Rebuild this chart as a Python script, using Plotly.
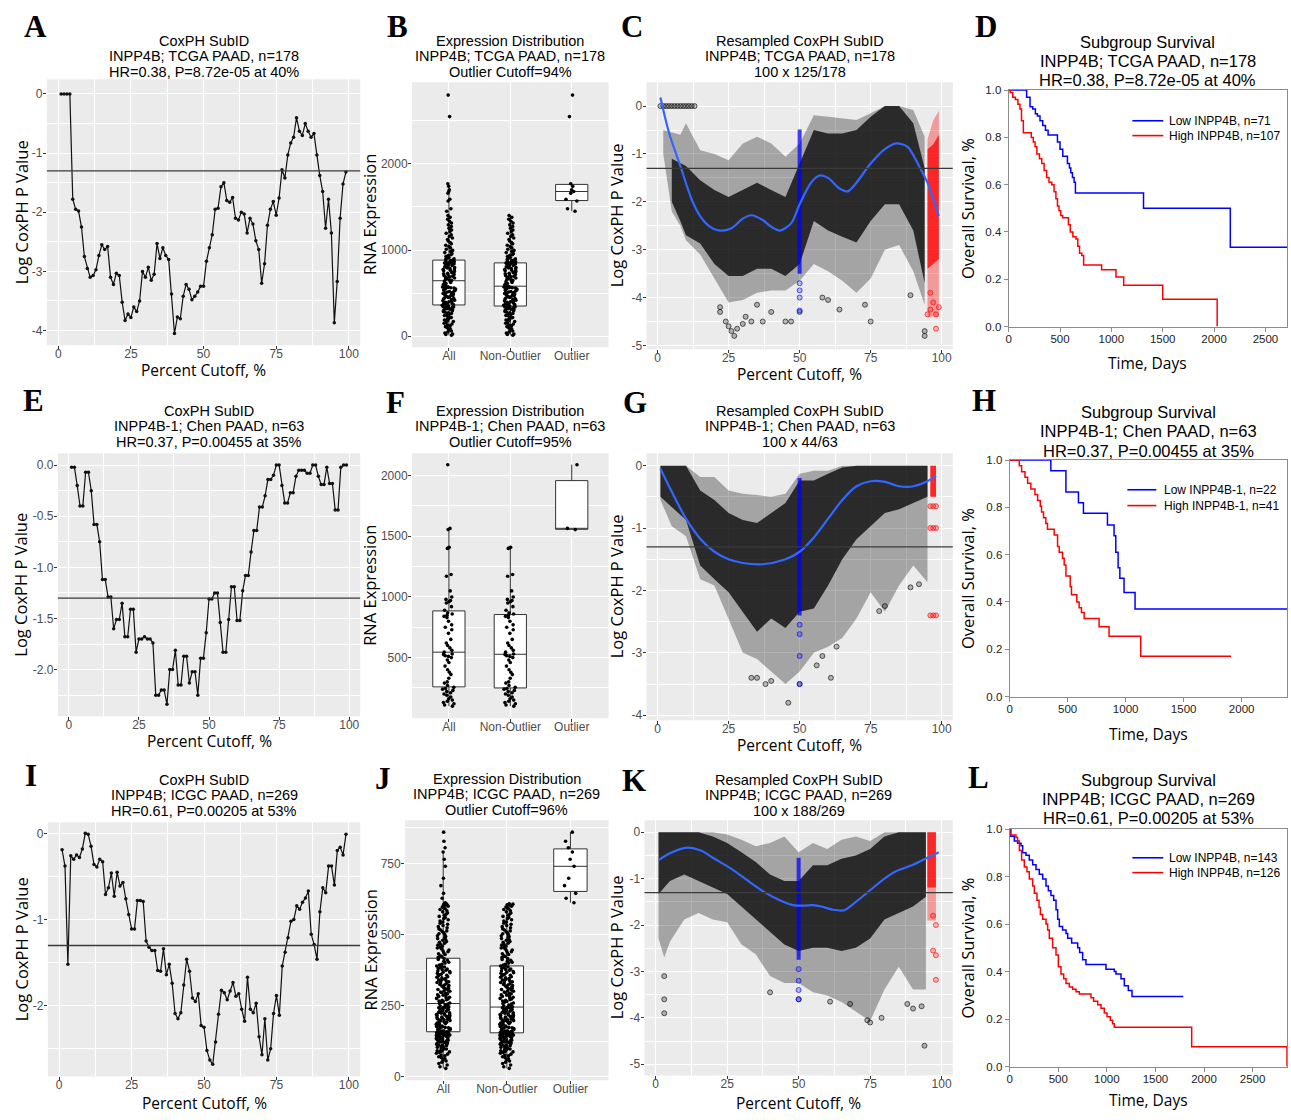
import numpy as np
import plotly.graph_objects as go

# page = 1291 x 1120 window; the body margin is removed by a post script, so the figure fills it
W, H, M = 1291, 1120, 0
SIG = float(np.log10(0.05))
SANS = "Liberation Sans, Arial, sans-serif"
HUM = "Open Sans, Liberation Sans, sans-serif"
SERIF = "Liberation Serif, Times New Roman, serif"

# ======================= DATA =======================
# CoxPH SubID scans: log10 P value at percent cutoffs 1..99
tcga_logp = [0, 0, 0, 0, -1.78, -1.95, -1.98, -2.25, -2.75, -2.95, -3.1, -3.07, -2.97, -2.73, -2.55,
             -2.63, -2.58, -3.1, -3.22, -3.03, -3.07, -3.52, -3.83, -3.72, -3.78, -3.6, -3.68, -3.5,
             -3.0, -3.1, -2.93, -3.15, -3.05, -2.53, -2.78, -2.6, -2.73, -2.8, -3.38, -4.05, -3.77,
             -3.8, -3.42, -3.22, -3.3, -3.48, -3.42, -3.35, -3.25, -3.25, -2.83, -2.6, -2.38, -1.95,
             -1.93, -1.57, -1.5, -1.8, -1.83, -1.75, -2.1, -2.13, -2.0, -2.03, -2.35, -2.1, -2.2,
             -2.48, -2.63, -3.2, -2.87, -2.22, -1.95, -1.82, -2.05, -1.76, -1.28, -1.42, -1.03, -0.83,
             -0.73, -0.4, -0.63, -0.7, -0.5, -0.63, -0.73, -0.67, -1.03, -1.38, -1.65, -2.27, -1.78,
             -2.35, -3.87, -3.17, -2.1, -1.52, -1.32]
chen_logp = [-0.02, -0.02, -0.2, -0.4, -0.4, -0.07, -0.07, -0.25, -0.58, -0.58,
             -0.75, -1.12, -1.12, -1.29, -1.29, -1.6, -1.51, -1.51, -1.35, -1.68,
             -1.68, -1.41, -1.41, -1.83, -1.7, -1.7, -1.68, -1.7, -1.7, -1.74,
             -2.25, -2.25, -2.2, -2.2, -2.34, -2.0, -2.0, -1.81, -2.15, -2.15,
             -1.87, -1.87, -2.13, -2.02, -2.02, -2.25, -1.89, -1.89, -1.64, -1.31,
             -1.31, -1.25, -1.25, -1.54, -1.83, -1.83, -1.51, -1.19, -1.19, -1.52,
             -1.52, -1.23, -1.08, -1.08, -0.85, -0.64, -0.64, -0.41, -0.41, -0.3,
             -0.14, -0.14, -0.1, 0.0, 0.0, -0.2, -0.37, -0.37, -0.27, -0.27,
             -0.11, -0.05, -0.05, -0.05, -0.08, -0.08, 0.0, 0.0, -0.11, -0.19,
             -0.19, -0.02, -0.18, -0.18, -0.44, -0.44, -0.02, 0.0, 0.0]
icgc_logp = [-0.19, -0.38, -1.52, -0.26, -0.3, -0.25, -0.28, -0.18, 0.0, -0.01,
             -0.15, -0.36, -0.39, -0.3, -0.33, -0.71, -0.63, -0.46, -0.73, -0.45,
             -0.61, -0.57, -0.76, -0.94, -1.11, -1.11, -0.78, -0.78, -0.79, -1.25,
             -1.32, -1.36, -1.36, -1.59, -1.6, -1.34, -1.64, -1.52, -1.74, -2.09,
             -2.15, -2.08, -1.76, -1.46, -1.6, -1.91, -1.95, -1.86, -2.23, -2.25,
             -2.52, -2.63, -2.68, -2.42, -2.1, -1.82, -1.85, -1.93, -1.83, -1.73,
             -1.89, -1.86, -2.04, -2.18, -1.67, -2.04, -2.08, -1.97, -2.36, -2.57,
             -2.15, -2.63, -2.5, -2.09, -1.88, -2.11, -1.54, -1.38, -1.21, -1.02,
             -1.0, -0.84, -0.88, -0.8, -0.75, -0.67, -1.17, -1.29, -1.46, -0.91,
             -0.63, -0.69, -0.38, -0.38, -0.6, -0.2, -0.16, -0.25, -0.01]

# Expression distributions (RNA expression, estimated from the jittered points)
tcga_nonoutlier = [10, 18, 25, 35, 48, 60, 72, 85, 95, 110, 120, 128, 140, 150, 158, 170, 180, 188, 195, 205,
                   215, 222, 230, 240, 248, 255, 262, 270, 278, 285, 292, 300, 305, 312, 318, 322, 328, 333,
                   338, 342, 346, 349,
                   352, 358, 362, 368, 375, 380, 386, 392, 398, 405, 410, 418, 424, 430, 437, 443, 450, 456,
                   462, 470, 476, 482, 488, 495, 500, 507, 512, 518, 525, 530, 536, 542, 548, 553, 558, 562,
                   566, 570, 573, 575, 578, 580,
                   598, 612, 624, 633, 640, 647, 654, 661, 668, 675, 682, 689, 696, 703, 710, 717, 724, 731,
                   738, 745, 752, 759, 766, 773, 780, 786, 792, 798, 804, 810, 816, 821, 826, 831, 835, 839,
                   842, 845, 847, 848, 849,
                   851, 853, 856, 859, 863, 867, 872, 877, 883, 890, 897, 905, 914, 924, 935, 946, 958, 970,
                   983, 996, 1010, 1025, 1040, 1056, 1072, 1088, 1105, 1122, 1140, 1158, 1176, 1195, 1214,
                   1233, 1252, 1272, 1292, 1313, 1335, 1358, 1380, 1400]
tcga_outlier = [1450, 1480, 1570, 1590, 1660, 1680, 1700, 1740, 1770, 2550, 2800]

chen_nonoutlier = [100, 110, 120, 130, 140, 150, 160, 175, 190, 200, 210, 220, 230, 240, 245, 255, 270, 290,
                   300, 330, 360, 380, 400, 430, 460, 480, 500, 510, 515, 525, 530, 545, 560, 580, 600, 620,
                   650, 700, 730, 750, 770, 800, 830, 840, 850, 860, 870, 890, 920, 950, 960, 970, 980, 1000,
                   1050, 1170, 1185, 1400, 1405, 1410]
chen_outlier = [1555, 1565, 2090]

icgc_nonoutlier = [30, 36, 42, 47, 52, 56, 60, 64, 68, 71, 74, 77, 80, 83, 86, 88, 90, 92, 94, 96,
                   98, 100, 102, 104, 106, 108, 110, 112, 113, 115, 117, 118, 120, 121, 123, 124, 126, 127,
                   129, 130, 131, 133, 134, 135, 137, 138, 139, 140, 142, 143, 144, 145, 146, 147, 148, 149,
                   150, 151, 152, 153, 153, 154, 154, 155, 155,
                   156, 158, 159, 161, 162, 164, 165, 167, 168, 170, 171, 173, 174, 176, 177, 179, 180, 182,
                   183, 185, 186, 188, 189, 191, 192, 194, 195, 197, 198, 200, 201, 203, 204, 206, 207, 209,
                   210, 212, 213, 215, 216, 218, 219, 221, 222, 224, 225, 227, 228, 230, 231, 233, 234, 236,
                   237, 239, 240, 241, 242, 243, 244, 244, 245, 245,
                   246, 249, 251, 253, 256, 258, 260, 262, 265, 267, 269, 271, 274, 276, 278, 280, 283, 285,
                   287, 289, 292, 294, 296, 298, 301, 303, 305, 307, 310, 312, 314, 316, 319, 321, 323, 325,
                   328, 330, 332, 334, 337, 339, 341, 343, 346, 348, 350, 352, 355, 357, 359, 361, 364, 366,
                   368, 370, 373, 375, 377, 379, 382, 384, 386, 388,
                   390, 393, 396, 400, 403, 406, 410, 413, 416, 420, 423, 426, 430, 433, 436, 440, 443, 446,
                   450, 453, 456, 460, 463, 466, 470, 473, 476, 480, 483, 486, 490, 493, 496, 500, 503, 506,
                   510, 513, 516, 520, 524, 528, 532, 536, 540, 544, 548, 552, 556, 560, 564, 568, 572, 576,
                   580, 584, 588, 591, 594, 597, 600, 603, 605, 607, 608]
icgc_outlier = [612, 628, 645, 672, 698, 740, 765, 790, 805, 828, 860]
box_groups = ['All', 'Non-Outlier', 'Outlier']

# Resampled CoxPH clouds: envelope (outer) and dense core of the point cloud, per cutoff
C_x = [2, 5, 8, 10, 15, 20, 25, 30, 35, 40, 45, 50, 55, 60, 65, 70, 75, 80, 85, 90, 94]
C_top = [-0.5, -0.55, -0.6, -0.36, -0.92, -1.0, -1.13, -0.78, -0.64, -0.78, -1.06, -0.78, -0.19, -0.22,
         -0.26, -0.29, -0.15, 0.0, 0.0, -0.08, -0.64]
C_bot = [-1.0, -2.2, -2.5, -2.8, -3.1, -3.6, -4.1, -4.05, -3.9, -3.85, -3.85, -3.65, -3.3, -3.45, -3.65,
         -3.9, -3.6, -3.0, -2.9, -3.45, -4.15]
C_cx = [5, 8, 10, 15, 20, 25, 30, 35, 40, 45, 50, 55, 60, 65, 70, 75, 80, 85, 90, 94]
C_ctop = [-1.1, -1.2, -1.25, -1.55, -1.75, -1.9, -1.75, -1.6, -1.75, -1.9, -1.2, -0.5, -0.57, -0.57, -0.5,
          -0.22, 0.0, 0.0, -0.36, -1.3]
C_cbot = [-2.0, -2.4, -2.7, -2.87, -3.3, -3.55, -3.55, -3.4, -3.4, -3.55, -3.3, -2.4, -2.6, -2.73, -2.85,
          -2.4, -2.05, -2.05, -2.6, -3.7]
C_red_x = [95, 97, 99]
C_red_top = [-0.7, -0.3, -0.1]
C_red_bot = [-4.4, -4.4, -4.4]
C_red_ctop = [-0.9, -0.8, -0.6]
C_red_cbot = [-3.4, -3.3, -3.2]
C_zero_x = [1, 2, 3, 4, 5, 6, 7, 8, 9, 10, 11, 12, 13]
C_sp_x = [22, 22, 24, 25, 26, 27, 28, 30, 31, 33, 35, 37, 40, 45, 47, 50, 58, 60, 64, 73, 75, 89, 94, 94]
C_sp_y = [-4.2, -4.3, -4.5, -4.6, -4.7, -4.8, -4.65, -4.55, -4.4, -4.5, -4.15, -4.5, -4.3, -4.5, -4.5,
          -4.3, -4.0, -4.05, -4.25, -4.15, -4.5, -3.95, -4.7, -4.8]
C_red_sp_x = [95, 96, 97, 98, 99, 96, 98]
C_red_sp_y = [-4.35, -4.25, -4.1, -4.35, -4.2, -3.9, -4.65]
C_mid = [-0.49, -3.5]
C_mid_sp = [-3.7, -3.85, -4.0, -4.27]
C_fit_x = [1, 4, 8, 12, 15, 18, 22, 26, 30, 33, 37, 40, 43, 47, 50, 54, 57, 60, 64, 67, 70, 75, 80, 84,
           88, 92, 95, 99]
C_fit_y = [0.18, -0.55, -1.25, -1.95, -2.3, -2.5, -2.6, -2.55, -2.35, -2.28, -2.38, -2.52, -2.6, -2.45,
           -2.05, -1.6, -1.45, -1.5, -1.72, -1.78, -1.6, -1.2, -0.9, -0.78, -0.85, -1.25, -1.6, -2.3]

G_x = [1, 5, 10, 15, 20, 25, 30, 35, 40, 45, 50, 55, 60, 65, 70, 75, 80, 85, 90, 95]
G_top = [0, 0, 0, -0.18, -0.18, -0.4, -0.45, -0.47, -0.5, -0.45, -0.13, -0.08, -0.08, 0, 0, 0, 0, 0, 0, 0]
G_bot = [-0.55, -0.97, -1.13, -1.82, -1.92, -2.45, -3.0, -3.1, -3.3, -3.5, -3.3, -3.0, -2.9, -2.76, -2.45,
         -2.03, -2.34, -1.92, -1.6, -1.87]
G_ctop = [0, 0, 0, -0.4, -0.55, -0.76, -0.87, -0.92, -0.76, -0.6, -0.24, -0.24, -0.13, -0.03, 0, 0, 0, 0, 0, 0]
G_cbot = [-0.5, -0.66, -0.87, -1.6, -1.82, -2.03, -2.34, -2.66, -2.45, -2.6, -2.34, -2.29, -1.92, -1.5,
          -1.18, -0.97, -0.76, -0.7, -0.6, -0.5]
G_red_x = [96, 98]
G_red_top = [0, 0]
G_red_bot = [-0.5, -0.5]
G_sp_x = [33, 35, 38, 40, 46, 50, 56, 58, 61, 63, 78, 80, 89, 92]
G_sp_y = [-3.4, -3.4, -3.5, -3.45, -3.8, -3.5, -3.2, -3.05, -3.4, -2.9, -2.33, -2.25, -1.95, -1.9]
G_red_sp_x = [96, 97, 98, 96, 97, 98, 96, 97, 98]
G_red_sp_y = [-0.65, -0.65, -0.65, -1.0, -1.0, -1.0, -2.4, -2.4, -2.4]
G_mid = [-0.2, -2.4]
G_mid_sp = [-2.55, -2.7, -3.05, -3.5]
G_fit_x = [1, 5, 10, 15, 20, 25, 30, 37, 45, 50, 55, 60, 65, 70, 75, 80, 85, 90, 95, 98]
G_fit_y = [-0.05, -0.42, -0.85, -1.17, -1.38, -1.5, -1.56, -1.58, -1.5, -1.38, -1.15, -0.85, -0.55, -0.33,
           -0.25, -0.26, -0.33, -0.33, -0.25, -0.16]

K_x = [1, 3, 5, 10, 15, 20, 25, 30, 35, 40, 45, 50, 55, 60, 65, 70, 75, 80, 85, 90, 94.5]
K_top = [0, 0, 0, 0, 0, 0, -0.05, -0.16, -0.3, -0.23, -0.09, -0.43, -0.23, -0.36, -0.16, -0.09, -0.19, 0, 0, 0, 0]
K_bot = [-2.29, -2.7, -2.36, -1.88, -1.74, -1.88, -1.94, -2.42, -2.63, -3.1, -3.25, -3.25, -3.45, -3.52,
         -3.66, -3.87, -4.07, -3.39, -2.9, -3.39, -3.39]
K_ctop = [0, 0, 0, 0, 0, -0.09, -0.23, -0.43, -0.64, -0.91, -1.05, -1.05, -0.71, -0.71, -0.57, -0.5, -0.36,
          -0.09, 0, 0, 0]
K_cbot = [-1.33, -1.2, -1.05, -0.91, -1.05, -1.19, -1.33, -1.6, -1.88, -2.15, -2.42, -2.56, -2.49, -2.49,
          -2.56, -2.49, -2.29, -1.88, -1.74, -1.6, -1.39]
K_red_x = [95, 98]
K_red_top = [0, 0]
K_red_bot = [-1.9, -1.9]
K_red_ctop = [0, 0]
K_red_cbot = [-1.19, -1.19]
K_sp_x = [3, 3, 3, 40, 50, 61, 68, 74, 75, 79, 88, 90, 93, 94]
K_sp_y = [-3.1, -3.6, -3.9, -3.45, -3.6, -3.65, -3.7, -4.05, -4.1, -4.0, -3.7, -3.8, -3.75, -4.6]
K_red_sp_x = [97, 98, 98, 97, 98]
K_red_sp_y = [-1.8, -2.0, -2.65, -2.55, -3.18]
K_mid = [-0.55, -2.75]
K_mid_sp = [-2.95, -3.2, -3.4, -3.6]
K_fit_x = [1, 5, 11, 16, 20, 27, 33, 38, 44, 48, 52, 55, 58, 62, 66, 70, 74, 80, 84, 90, 95, 99]
K_fit_y = [-0.6, -0.45, -0.33, -0.4, -0.55, -0.81, -1.08, -1.29, -1.48, -1.57, -1.58, -1.57, -1.6, -1.67,
           -1.68, -1.5, -1.3, -1.0, -0.84, -0.7, -0.55, -0.43]

# Kaplan-Meier curves (time in days, survival fraction)
D_low_t = [0, 175, 208, 234, 260, 280, 305, 332, 358, 384, 475, 500, 527, 572, 592, 605, 621, 637, 650,
           1313, 2158, 2710]
D_low_s = [1.0, 0.97, 0.93, 0.92, 0.90, 0.89, 0.87, 0.85, 0.83, 0.81, 0.78, 0.75, 0.72, 0.69, 0.67, 0.65,
           0.63, 0.61, 0.565, 0.50, 0.335, 0.335]
D_high_t = [0, 15, 40, 65, 90, 110, 125, 143, 220, 240, 257, 275, 300, 322, 345, 370, 393, 420, 442, 460,
            475, 490, 507, 526, 582, 600, 625, 655, 673, 690, 712, 730, 905, 1045, 1120, 1500, 2030]
D_high_s = [1.0, 0.99, 0.97, 0.96, 0.94, 0.92, 0.87, 0.82, 0.80, 0.78, 0.76, 0.73, 0.71, 0.69, 0.66, 0.63,
            0.61, 0.60, 0.57, 0.54, 0.51, 0.49, 0.47, 0.46, 0.43, 0.40, 0.38, 0.37, 0.34, 0.31, 0.30, 0.26,
            0.24, 0.21, 0.175, 0.115, 0.0]
H_low_t = [0, 355, 485, 593, 636, 843, 900, 915, 935, 950, 986, 1081, 2391]
H_low_s = [1.0, 0.955, 0.865, 0.82, 0.775, 0.725, 0.68, 0.61, 0.545, 0.50, 0.44, 0.37, 0.37]
H_high_t = [0, 83, 103, 132, 155, 183, 218, 241, 264, 275, 292, 312, 326, 384, 413, 427, 456, 470, 485, 522,
            533, 579, 599, 619, 642, 771, 857, 1130, 1909]
H_high_s = [1.0, 0.976, 0.951, 0.927, 0.902, 0.878, 0.854, 0.829, 0.805, 0.78, 0.756, 0.732, 0.707, 0.683,
            0.634, 0.61, 0.585, 0.556, 0.51, 0.464, 0.43, 0.40, 0.375, 0.355, 0.33, 0.295, 0.255, 0.17, 0.17]
L_low_t = [0, 7, 48, 82, 117, 134, 168, 202, 237, 271, 305, 340, 374, 398, 425, 453, 477, 494, 511, 545,
           580, 597, 638, 700, 720, 751, 785, 991, 1077, 1094, 1146, 1180, 1221, 1259, 1787]
L_low_s = [1.0, 0.97, 0.95, 0.94, 0.93, 0.90, 0.89, 0.87, 0.85, 0.83, 0.81, 0.79, 0.76, 0.74, 0.72, 0.70,
           0.66, 0.62, 0.59, 0.575, 0.56, 0.54, 0.52, 0.50, 0.48, 0.45, 0.43, 0.41, 0.40, 0.39, 0.37, 0.34,
           0.32, 0.295, 0.295]
L_high_t = [0, 14, 65, 82, 100, 123, 151, 178, 202, 237, 254, 281, 302, 316, 340, 374, 391, 408, 442, 477,
            501, 528, 556, 580, 614, 648, 683, 717, 837, 864, 906, 940, 974, 1002, 1036, 1060, 1077, 1873, 2854]
L_high_s = [1.0, 0.975, 0.965, 0.95, 0.91, 0.87, 0.84, 0.82, 0.79, 0.76, 0.73, 0.70, 0.67, 0.64, 0.62, 0.60,
            0.575, 0.54, 0.50, 0.47, 0.42, 0.39, 0.37, 0.35, 0.335, 0.325, 0.315, 0.305, 0.29, 0.275, 0.26,
            0.245, 0.225, 0.21, 0.195, 0.18, 0.165, 0.083, 0.0]

# Tick labels
pct_ticks = [0, 25, 50, 75, 100]
pct_labels = ['0', '25', '50', '75', '100']
A_yticks = [0, -1, -2, -3, -4]
A_ylabels = ['0', '-1', '-2', '-3', '-4']
E_yticks = [0.0, -0.5, -1.0, -1.5, -2.0]
E_ylabels = ['0.0', '-0.5', '-1.0', '-1.5', '-2.0']
I_yticks = [0, -1, -2]
I_ylabels = ['0', '-1', '-2']
C_yticks = [0, -1, -2, -3, -4, -5]
C_ylabels = ['0', '-1', '-2', '-3', '-4', '-5']
G_yticks = [0, -1, -2, -3, -4]
G_ylabels = ['0', '-1', '-2', '-3', '-4']
B_yticks = [0, 1000, 2000]
F_yticks = [500, 1000, 1500, 2000]
J_yticks = [0, 250, 500, 750]

# ======================= LAYOUT =======================
# panel boxes in page pixels: left, right, top, bottom
panels = {
    'A': (1, (44, 358, 74, 343)),
    'B': (2, (410, 607, 77, 345)),
    'C': (3, (645, 952, 77, 347)),
    'D': (4, (1008, 1287, 85, 324)),
    'E': (5, (55, 358, 452, 718)),
    'F': (6, (410, 607, 452, 720)),
    'G': (7, (645, 952, 452, 722)),
    'H': (8, (1009, 1287, 459, 698)),
    'I': (9, (45, 358, 825, 1082)),
    'J': (10, (403, 607, 823, 1086)),
    'K': (11, (643, 952, 823, 1081)),
    'L': (12, (1009, 1287, 832, 1072)),
}


def fx(px):
    return (px - M) / W


def fy(py):
    return 1 - (py - M) / H


def clamp(v):
    return min(1.0, max(0.0, v))


def refs(letter):
    k = panels[letter][0]
    return ('x' if k == 1 else f'x{k}'), ('y' if k == 1 else f'y{k}')


fig = go.Figure()
layout = dict(width=W, height=H, autosize=False, margin=dict(l=0, r=0, t=0, b=0, pad=0),
              paper_bgcolor='white', plot_bgcolor='white', showlegend=False, boxgap=0.25, boxmode='overlay')
shapes, anns = [], []


def gg_axis(rng, tickvals, ticktext=None, minor=None, categorical=False, standoff=-6):
    d = dict(range=rng, showgrid=True, gridcolor='white', gridwidth=1.4, zeroline=False, showline=False,
             ticks='outside', ticklen=3, tickwidth=1, tickcolor='#333333', ticklabelstandoff=standoff,
             tickfont=dict(family=SANS, size=12, color='#4D4D4D'))
    if categorical:
        d.update(type='category', categoryorder='array', categoryarray=tickvals)
    else:
        d.update(tickmode='array', tickvals=tickvals, ticktext=ticktext if ticktext else [str(v) for v in tickvals])
        if minor:
            d['minor'] = dict(tick0=0, dtick=minor, showgrid=True, gridcolor='white', gridwidth=0.7)
    return d


def km_axis(rng, dtick, fmt=None, standoff=-2):
    d = dict(range=rng, showgrid=False, zeroline=False, showline=True, mirror=True, linecolor='#8C8C8C',
             linewidth=1, ticks='outside', ticklen=4, tickcolor='#8C8C8C', tick0=0, dtick=dtick,
             ticklabelstandoff=standoff, tickfont=dict(family=SANS, size=11.5, color='#222222'))
    if fmt:
        d['tickformat'] = fmt
    return d


def set_axes(letter, xa, ya, grey=True):
    k, (L, R, T, B) = panels[letter]
    xr, yr = refs(letter)
    xa.update(domain=[clamp(fx(L)), clamp(fx(R))], anchor=yr)
    ya.update(domain=[clamp(fy(B)), clamp(fy(T))], anchor=xr)
    layout['xaxis' if k == 1 else f'xaxis{k}'] = xa
    layout['yaxis' if k == 1 else f'yaxis{k}'] = ya
    if grey:
        shapes.append(dict(type='rect', xref=f'{xr} domain', yref=f'{yr} domain', x0=0, x1=1, y0=0, y1=1,
                           fillcolor='#EBEBEB', line=dict(width=0), layer='below'))


def text(x, y, s, size=14.5, family=SANS, color='black', angle=0, xanchor='center'):
    anns.append(dict(x=fx(x), y=fy(y), xref='paper', yref='paper', text=s, showarrow=False,
                     font=dict(family=family, size=size, color=color), xanchor=xanchor, yanchor='middle',
                     textangle=angle))


def sig_line(letter):
    xr, yr = refs(letter)
    shapes.append(dict(type='line', xref=f'{xr} domain', yref=yr, x0=0, x1=1, y0=SIG, y1=SIG,
                       line=dict(color='#3a3a3a', width=1.3), layer='above'))


# ---- cutoff scan panels (A, E, I) ----
scan = [('A', tcga_logp, [-4.25, 0.25], A_yticks, A_ylabels, 0.5),
        ('E', chen_logp, [-2.457, 0.117], E_yticks, E_ylabels, 0.25),
        ('I', icgc_logp, [-2.82, 0.13], I_yticks, I_ylabels, 0.5)]
for letter, vals, yr_, yt, yl, mn in scan:
    xr, yr = refs(letter)
    set_axes(letter, gg_axis([-3.9, 103.9], pct_ticks, pct_labels, 12.5),
             gg_axis(yr_, yt, yl, mn, standoff=-2))
    sig_line(letter)
    fig.add_trace(go.Scatter(x=list(range(1, len(vals) + 1)), y=vals, mode='lines+markers',
                             line=dict(color='#111111', width=1.2), marker=dict(color='#111111', size=3.5),
                             xaxis=xr, yaxis=yr, hoverinfo='skip'))

# ---- expression boxplots (B, F, J) ----
expr = [('B', tcga_nonoutlier, tcga_outlier, [-130, 2950], B_yticks, 500),
        ('F', chen_nonoutlier, chen_outlier, [0, 2185], F_yticks, 250),
        ('J', icgc_nonoutlier, icgc_outlier, [-12, 902], J_yticks, 125)]
for letter, non, out, yr_, yt, mn in expr:
    xr, yr = refs(letter)
    xa = gg_axis([-0.6, 2.6], box_groups, categorical=True)
    set_axes(letter, xa, gg_axis(yr_, yt, None, mn, standoff=-2))
    for g, vals in zip(box_groups, [sorted(non + out), non, out]):
        fig.add_trace(go.Box(x=[g] * len(vals), y=vals, boxpoints='all', jitter=0.42, pointpos=0,
                             fillcolor='white', line=dict(color='#333333', width=1), whiskerwidth=0,
                             marker=dict(color='black', size=3.6), xaxis=xr, yaxis=yr, hoverinfo='skip'))


# ---- resampled clouds (C, G, K) ----
def band(xr, yr, xs, top, bot, color):
    fig.add_trace(go.Scatter(x=list(xs) + list(xs)[::-1], y=list(top) + list(bot)[::-1], fill='toself',
                             fillcolor=color, mode='lines', line=dict(width=0), xaxis=xr, yaxis=yr,
                             hoverinfo='skip'))


def pts(xr, yr, xs, ys, fill, edge, size=5):
    fig.add_trace(go.Scatter(x=xs, y=ys, mode='markers', xaxis=xr, yaxis=yr, hoverinfo='skip',
                             marker=dict(color=fill, size=size, line=dict(color=edge, width=0.8))))


clouds = [
    ('C', [-5.08, 0.5], C_yticks, C_ylabels,
     (C_x, C_top, C_bot), (C_cx, C_ctop, C_cbot), (C_red_x, C_red_top, C_red_bot),
     (C_red_x, C_red_ctop, C_red_cbot), (C_sp_x, C_sp_y), (C_red_sp_x, C_red_sp_y), C_mid, C_mid_sp,
     (C_fit_x, C_fit_y)),
    ('G', [-4.08, 0.2], G_yticks, G_ylabels,
     (G_x, G_top, G_bot), (G_x, G_ctop, G_cbot), (G_red_x, G_red_top, G_red_bot),
     (G_red_x, G_red_top, G_red_bot), (G_sp_x, G_sp_y), (G_red_sp_x, G_red_sp_y), G_mid, G_mid_sp,
     (G_fit_x, G_fit_y)),
    ('K', [-5.24, 0.26], C_yticks, C_ylabels,
     (K_x, K_top, K_bot), (K_x, K_ctop, K_cbot), (K_red_x, K_red_top, K_red_bot),
     (K_red_x, K_red_ctop, K_red_cbot), (K_sp_x, K_sp_y), (K_red_sp_x, K_red_sp_y), K_mid, K_mid_sp,
     (K_fit_x, K_fit_y)),
]
for (letter, yr_, yt, yl, outer, core, rout, rcore, sp, rsp, mid, midsp, fit) in clouds:
    xr, yr = refs(letter)
    set_axes(letter, gg_axis([-3.9, 103.9], pct_ticks, pct_labels, 12.5),
             gg_axis(yr_, yt, yl, 0.5, standoff=-2))
    band(xr, yr, *outer, 'rgba(0,0,0,0.30)')
    band(xr, yr, *core, 'rgba(0,0,0,0.74)')
    pts(xr, yr, sp[0], sp[1], 'rgba(0,0,0,0.25)', 'rgba(0,0,0,0.75)')
    band(xr, yr, *rout, 'rgba(255,0,0,0.35)')
    band(xr, yr, *rcore, 'rgba(255,0,0,0.75)')
    pts(xr, yr, rsp[0], rsp[1], 'rgba(255,0,0,0.25)', 'rgba(255,0,0,0.8)')
    fig.add_trace(go.Scatter(x=[50, 50], y=mid, mode='lines', line=dict(color='rgba(0,0,255,0.75)', width=4),
                             xaxis=xr, yaxis=yr, hoverinfo='skip'))
    pts(xr, yr, [50] * len(midsp), midsp, 'rgba(0,0,255,0.25)', 'rgba(0,0,255,0.8)')
    if letter == 'C':
        pts(xr, yr, C_zero_x, [0] * len(C_zero_x), 'rgba(0,0,0,0.2)', 'rgba(0,0,0,0.8)')
    fig.add_trace(go.Scatter(x=fit[0], y=fit[1], mode='lines', line=dict(color='#3366FF', width=2.2,
                             shape='spline', smoothing=0.8), xaxis=xr, yaxis=yr, hoverinfo='skip'))
    sig_line(letter)

# ---- Kaplan-Meier panels (D, H, L) ----
km = [('D', [0, 2710], (D_low_t, D_low_s), (D_high_t, D_high_s),
       ['Low INPP4B, n=71', 'High INPP4B, n=107'], (1132, 1163, 1167, 116, 131)),
      ('H', [0, 2391], (H_low_t, H_low_s), (H_high_t, H_high_s),
       ['Low INPP4B-1, n=22', 'High INPP4B-1, n=41'], (1127, 1156, 1162, 489, 505)),
      ('L', [0, 2854], (L_low_t, L_low_s), (L_high_t, L_high_s),
       ['Low INPP4B, n=143', 'High INPP4B, n=126'], (1132, 1163, 1167, 861, 876))]
for letter, xr_, low, high, names, leg in km:
    xr, yr = refs(letter)
    set_axes(letter, km_axis(xr_, 500), km_axis([0, 1], 0.2, '.1f', standoff=0), grey=False)
    for (t, s), col, nm in [(low, '#0000FF', names[0]), (high, '#FF0000', names[1])]:
        fig.add_trace(go.Scatter(x=t, y=s, mode='lines', name=nm, line=dict(color=col, width=1.5, shape='hv'),
                                 xaxis=xr, yaxis=yr, hoverinfo='skip'))
    lx0, lx1, tx, y1, y2 = leg
    for yy, col, nm in [(y1, '#0000FF', names[0]), (y2, '#FF0000', names[1])]:
        shapes.append(dict(type='line', xref='paper', yref='paper', x0=fx(lx0), x1=fx(lx1),
                           y0=fy(yy), y1=fy(yy), line=dict(color=col, width=1.6)))
        text(tx, yy, nm, size=12, xanchor='left')

# ---- titles ----
titles = {
    'A': ['CoxPH SubID', 'INPP4B; TCGA PAAD, n=178', 'HR=0.38, P=8.72e-05 at 40%'],
    'B': ['Expression Distribution', 'INPP4B; TCGA PAAD, n=178', 'Outlier Cutoff=94%'],
    'C': ['Resampled CoxPH SubID', 'INPP4B; TCGA PAAD, n=178', '100 x 125/178'],
    'D': ['Subgroup Survival', 'INPP4B; TCGA PAAD, n=178', 'HR=0.38, P=8.72e-05 at 40%'],
    'E': ['CoxPH SubID', 'INPP4B-1; Chen PAAD, n=63', 'HR=0.37, P=0.00455 at 35%'],
    'F': ['Expression Distribution', 'INPP4B-1; Chen PAAD, n=63', 'Outlier Cutoff=95%'],
    'G': ['Resampled CoxPH SubID', 'INPP4B-1; Chen PAAD, n=63', '100 x 44/63'],
    'H': ['Subgroup Survival', 'INPP4B-1; Chen PAAD, n=63', 'HR=0.37, P=0.00455 at 35%'],
    'I': ['CoxPH SubID', 'INPP4B; ICGC PAAD, n=269', 'HR=0.61, P=0.00205 at 53%'],
    'J': ['Expression Distribution', 'INPP4B; ICGC PAAD, n=269', 'Outlier Cutoff=96%'],
    'K': ['Resampled CoxPH SubID', 'INPP4B; ICGC PAAD, n=269', '100 x 188/269'],
    'L': ['Subgroup Survival', 'INPP4B; ICGC PAAD, n=269', 'HR=0.61, P=0.00205 at 53%'],
}
title_y = {'A': (35, 51, 67), 'B': (35, 51, 67), 'C': (35, 51, 67), 'D': (36, 56, 75),
           'E': (409, 425, 441), 'F': (409, 425, 441), 'G': (409, 425, 441), 'H': (410, 430, 450),
           'I': (782, 798, 814), 'J': (781, 797, 813), 'K': (782, 798, 814), 'L': (782, 802, 821)}
for letter, lines in titles.items():
    L, R, T, B = panels[letter][1]
    big = letter in 'DHL'
    for s, yy in zip(lines, title_y[letter]):
        text((L + R) / 2, yy, s, size=16.5 if big else 14.5)

letters = {'A': (33, 21), 'B': (395, 21), 'C': (630, 21), 'D': (985, 21),
           'E': (31, 399), 'F': (393, 401), 'G': (633, 401), 'H': (983, 399),
           'I': (28, 778), 'J': (381, 781), 'K': (632, 783), 'L': (978, 780)}
for s, (x, y) in letters.items():
    text(x, y, '<b>%s</b>' % s, size=31, family=SERIF)

# ---- axis titles ----
ytitle = {'A': 18, 'E': 18, 'I': 18, 'B': 368, 'F': 368, 'J': 368, 'C': 615, 'G': 615, 'K': 615,
          'D': 967, 'H': 967, 'L': 967}
xtitle = {'A': 368, 'C': 372, 'D': 361, 'E': 743, 'G': 747, 'H': 736, 'I': 1109, 'K': 1109, 'L': 1106}
for letter, x in ytitle.items():
    L, R, T, B = panels[letter][1]
    lab = 'RNA Expression' if letter in 'BFJ' else ('Overall Survival, %' if letter in 'DHL' else 'Log CoxPH P Value')
    text(x, (T + B) / 2, lab, size=16.5, family=HUM, angle=-90)
for letter, y in xtitle.items():
    L, R, T, B = panels[letter][1]
    lab = 'Time, Days' if letter in 'DHL' else 'Percent Cutoff, %'
    text((L + R) / 2, y, lab, size=15.5, family=HUM)

layout['shapes'] = shapes
layout['annotations'] = anns
fig.update_layout(**layout)
fig.write_html("out.html", config={'displayModeBar': False, 'responsive': False},
               post_script="document.body.style.margin='0px';")
